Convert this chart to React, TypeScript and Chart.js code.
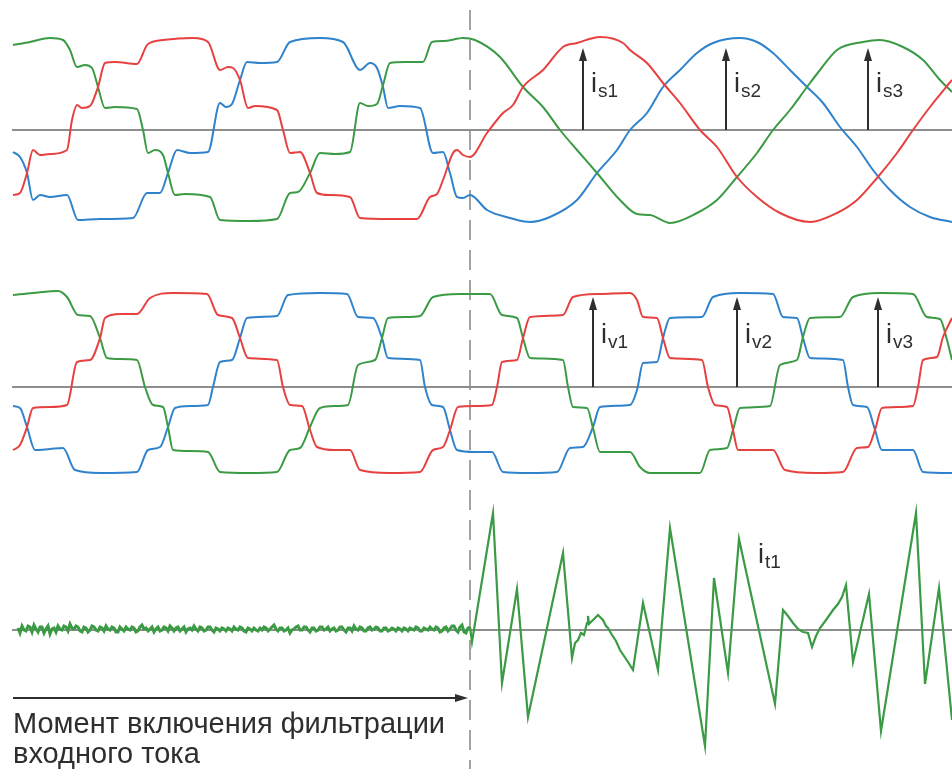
import { useEffect, useRef } from "react";
import { Chart, registerables } from "chart.js";

Chart.register(...registerables);

type Pt = [number, number]; // [time, ms ; current, A]

// ---------- axis ranges ----------
const timeMin = 0;
const timeMax = 47.6;
const switchTime = 23.5; // момент включения фильтрации

// ---------- panel 1: source currents i_s ----------
const sourceRed: Pt[] = [
  [0.65, -6.5], [1.0, -6.3], [1.35, -4.3], [1.65, -2.0], [2.0, -2.5], [2.5, -2.4], [3.35, -2.0],
  [3.6, 1.0], [3.85, 2.5], [4.1, 2.2], [4.5, 2.4], [4.9, 4.3], [5.25, 6.7], [5.75, 6.8], [6.85, 6.6],
  [7.35, 8.5], [7.6, 8.8], [8.15, 9.0], [9.65, 9.2], [10.4, 8.8], [11.0, 6.0], [11.4, 6.3], [11.65, 6.2],
  [12.0, 5.0], [12.4, 2.2], [12.75, 2.4], [13.85, 2.0], [14.15, 0], [14.5, -2.3], [15.0, -2.2],
  [15.5, -4.3], [15.85, -6.3], [16.5, -6.5], [17.5, -6.7], [18.0, -8.8], [19.5, -8.9], [20.85, -8.9],
  [21.5, -6.7], [21.85, -6.4], [22.15, -5.0], [22.65, -2.3], [22.85, -2.0], [23.15, -2.5], [23.5, -2.7],
  [24.35, -0.3], [25.15, 1.7], [25.65, 2.5], [26.15, 4.3], [27.15, 6.0], [28.15, 8.3], [28.85, 8.7],
  [30.0, 9.3], [31.15, 8.7], [31.5, 8.0], [32.35, 6.7], [33.15, 4.7], [34.0, 2.7], [35.0, 0],
  [35.85, -1.7], [36.85, -4.7], [37.85, -6.7], [39.0, -8.3], [40.5, -9.2], [41.85, -8.3], [42.85, -7.0],
  [43.85, -4.8], [44.85, -2.3], [45.65, 0], [46.5, 2.3], [47.6, 5.0],
];

const sourceGreen: Pt[] = [
  [0.65, 8.5], [1.5, 8.8], [2.5, 9.2], [3.15, 9.0], [3.5, 8.0], [3.85, 6.3], [4.25, 6.5], [4.6, 6.2],
  [4.9, 4.3], [5.25, 2.2], [5.75, 2.3], [6.85, 2.1], [7.15, 0], [7.4, -2.3], [7.75, -2.0], [8.15, -2.5],
  [8.4, -4.3], [8.75, -6.5], [9.25, -6.4], [10.5, -6.7], [11.0, -9.0], [12.5, -9.1], [13.85, -8.9],
  [14.5, -6.3], [14.9, -6.2], [15.5, -4.3], [16.0, -2.3], [16.75, -2.4], [17.5, -2.2], [18.0, 2.7],
  [18.4, 2.4], [18.85, 2.6], [19.15, 4.5], [19.5, 6.7], [20.25, 6.8], [21.15, 6.8], [21.6, 8.8],
  [22.25, 8.9], [23.15, 9.2], [23.75, 9.0], [25.0, 7.3], [26.15, 4.3], [27.15, 2.3], [28.0, 0],
  [28.85, -2.0], [29.85, -4.3], [31.0, -7.0], [31.85, -8.4], [32.5, -8.5], [33.5, -9.3], [34.85, -8.3],
  [35.85, -7.0], [36.85, -4.7], [37.85, -2.3], [38.65, 0], [39.5, 2.0], [40.35, 4.3], [41.0, 6.0],
  [41.85, 8.0], [43.15, 8.8], [44.0, 9.0], [45.15, 8.3], [46.15, 7.0], [47.0, 5.0], [47.6, 3.8],
];

const sourceBlue: Pt[] = [
  [0.65, -2.2], [1.0, -2.7], [1.35, -4.3], [1.65, -7.0], [2.0, -6.5], [2.5, -6.7], [3.35, -6.5],
  [3.9, -9.0], [5.0, -8.9], [6.65, -8.8], [7.35, -6.3], [8.0, -6.3], [8.4, -4.3], [8.85, -2.0],
  [9.5, -2.3], [10.4, -2.2], [11.0, 2.7], [11.3, 2.3], [11.6, 2.6], [12.0, 5.0], [12.35, 6.8],
  [13.0, 6.7], [13.85, 6.8], [14.5, 8.8], [16.0, 9.2], [17.15, 8.8], [18.0, 6.0], [18.5, 6.7],
  [18.85, 6.2], [19.15, 4.3], [19.4, 2.2], [20.0, 2.4], [21.0, 2.2], [21.65, -2.3], [22.15, -2.2],
  [22.5, -4.3], [22.85, -6.7], [23.15, -6.8], [23.5, -6.5], [24.35, -8.0], [25.5, -8.8], [26.5, -9.2],
  [27.5, -8.7], [28.85, -7.0], [29.85, -4.3], [30.85, -2.0], [31.5, 0], [32.35, 1.7], [33.15, 4.3],
  [34.0, 6.0], [34.85, 7.7], [35.65, 8.7], [37.0, 9.2], [37.85, 8.8], [38.65, 7.7], [39.5, 6.0],
  [40.35, 4.3], [41.15, 2.7], [42.0, 0.3], [42.85, -1.7], [43.65, -4.0], [44.5, -6.0], [45.5, -7.7],
  [46.5, -8.7], [47.6, -9.2],
];

// ---------- panel 2: load currents i_v ----------
const loadRed: Pt[] = [
  [0.65, -6.3], [1.0, -5.8], [1.35, -4.0], [1.65, -2.1], [2.5, -2.0], [3.35, -1.8], [3.85, 2.5],
  [4.5, 2.7], [5.0, 4.9], [5.25, 6.9], [6.0, 7.3], [6.85, 7.3], [7.5, 8.9], [8.65, 9.4], [10.35, 9.3],
  [10.9, 7.2], [11.6, 6.9], [12.0, 4.9], [12.4, 2.9], [13.85, 2.7], [14.15, 0], [14.5, -1.8],
  [15.1, -1.9], [15.5, -4.3], [15.85, -6.0], [16.75, -6.3], [17.5, -6.3], [18.0, -8.3], [19.5, -8.6],
  [21.0, -8.5], [21.65, -6.3], [22.15, -6.0], [22.5, -4.3], [22.9, -2.0], [23.75, -1.9], [24.6, -1.8],
  [24.85, 0], [25.1, 2.5], [25.85, 2.7], [26.15, 4.9], [26.5, 7.0], [28.15, 7.2], [28.65, 9.0],
  [30.0, 9.3], [31.5, 9.4], [31.85, 8.7], [32.15, 7.0], [32.85, 6.9], [33.15, 4.9], [33.5, 2.9],
  [35.1, 2.7], [35.4, 0], [35.75, -1.8], [36.35, -2.0], [36.65, -4.3], [36.9, -6.3], [38.65, -6.3],
  [39.25, -8.3], [40.75, -8.6], [42.15, -8.5], [42.85, -6.1], [43.4, -6.0], [43.75, -4.3],
  [44.1, -2.1], [45.65, -1.9], [45.9, 0], [46.15, 2.7], [46.85, 3.0], [47.15, 5.0], [47.6, 6.9],
];

const loadGreen: Pt[] = [
  [0.65, 9.2], [1.65, 9.4], [2.9, 9.6], [3.35, 9.0], [3.9, 7.2], [4.5, 7.1], [5.0, 4.9], [5.35, 2.9],
  [6.0, 2.8], [6.85, 2.7], [7.25, 0], [7.65, -1.8], [8.15, -2.0], [8.4, -4.0], [8.65, -6.3],
  [9.5, -6.4], [10.4, -6.5], [11.0, -8.5], [12.5, -8.6], [13.85, -8.5], [14.5, -6.3], [15.0, -6.1],
  [15.5, -4.0], [16.0, -2.1], [16.75, -1.9], [17.4, -1.8], [17.9, 2.2], [18.75, 2.7], [19.1, 4.9],
  [19.4, 6.9], [20.25, 7.0], [21.0, 7.1], [21.65, 9.0], [23.0, 9.3], [24.5, 9.3], [25.1, 7.2],
  [25.85, 6.9], [26.15, 4.9], [26.5, 2.9], [28.15, 2.7], [28.4, 0], [28.65, -2.0], [29.35, -2.1],
  [29.65, -4.1], [30.0, -6.5], [31.5, -6.5], [32.0, -8.0], [32.5, -8.6], [35.0, -8.6], [35.5, -6.3],
  [36.35, -6.1], [36.65, -4.3], [37.0, -2.1], [38.5, -1.9], [39.0, 2.2], [39.85, 2.7], [40.15, 5.0],
  [40.5, 6.9], [42.0, 7.0], [42.65, 9.0], [44.0, 9.4], [45.65, 9.3], [46.35, 7.0], [47.0, 6.8],
  [47.35, 4.7], [47.6, 2.7],
];

const loadBlue: Pt[] = [
  [0.65, -1.9], [1.0, -2.1], [1.35, -4.0], [1.75, -6.3], [2.5, -6.2], [3.15, -6.1], [3.75, -8.3],
  [5.0, -8.6], [6.85, -8.5], [7.4, -6.3], [8.0, -6.0], [8.4, -4.0], [8.75, -2.1], [9.5, -1.9],
  [10.4, -1.8], [10.65, 0], [11.0, 2.5], [11.6, 2.7], [12.0, 4.9], [12.35, 6.9], [13.85, 7.1],
  [14.4, 9.2], [16.0, 9.4], [17.35, 9.3], [17.9, 7.0], [18.65, 6.9], [19.1, 4.9], [19.4, 2.9],
  [21.0, 2.7], [21.25, 0], [21.6, -1.8], [22.15, -2.0], [22.5, -4.3], [22.85, -6.3], [23.75, -6.5],
  [24.6, -6.5], [25.15, -8.5], [26.5, -8.6], [27.85, -8.5], [28.5, -6.1], [29.15, -6.0], [29.65, -4.0],
  [30.0, -2.0], [31.5, -1.8], [31.85, -0.3], [32.15, 2.4], [32.85, 2.5], [33.15, 4.9], [33.5, 6.9],
  [35.1, 7.0], [35.65, 9.0], [37.0, 9.4], [38.65, 9.3], [39.15, 7.0], [39.85, 6.9], [40.15, 4.9],
  [40.5, 2.9], [42.15, 2.7], [42.4, 0], [42.65, -1.8], [43.35, -2.0], [43.75, -4.3], [44.1, -6.3],
  [45.65, -6.3], [46.15, -8.5], [47.6, -8.6],
];

// ---------- panel 3: filter current i_t1 ----------
const filterCurrent: Pt[] = [
  [0.9, 0.2], [1.0, -0.3], [1.1, 0.4], [1.2, 0.0], [1.3, -0.1], [1.4, 0.4], [1.5, 0.3], [1.6, -0.2],
  [1.7, 0.5], [1.8, 0.1], [1.9, -0.2], [2.0, 0.3], [2.1, 0.3], [2.2, -0.3], [2.3, 0.1], [2.4, 0.4],
  [2.5, -0.4], [2.6, 0.1], [2.7, 0.2], [2.8, -0.2], [2.9, 0.4], [3.0, 0.1], [3.1, 0.0], [3.2, 0.4],
  [3.3, 0.3], [3.4, -0.1], [3.5, 0.6], [3.6, 0.2], [3.7, 0.1], [3.8, 0.4], [3.9, 0.3], [4.0, -0.1],
  [4.1, -0.2], [4.2, 0.3], [4.3, 0.2], [4.4, -0.2], [4.5, 0.0], [4.6, 0.4], [4.7, 0.3], [4.8, 0.0],
  [4.9, -0.1], [5.0, 0.3], [5.1, 0.2], [5.2, -0.1], [5.3, 0.4], [5.4, 0.1], [5.5, 0.0], [5.6, 0.3],
  [5.7, 0.2], [5.8, -0.2], [5.9, -0.2], [6.0, 0.3], [6.1, 0.1], [6.2, -0.1], [6.3, 0.3], [6.4, 0.1],
  [6.5, 0.0], [6.6, 0.3], [6.7, 0.2], [6.8, -0.2], [6.9, -0.1], [7.0, 0.3], [7.1, 0.5], [7.2, 0.1],
  [7.3, 0.2], [7.4, -0.1], [7.5, 0.1], [7.6, 0.3], [7.7, -0.2], [7.8, 0.1], [7.9, 0.3], [8.0, -0.1],
  [8.1, 0.0], [8.2, 0.3], [8.3, 0.2], [8.4, -0.1], [8.5, 0.4], [8.6, 0.2], [8.7, -0.1], [8.8, 0.2],
  [8.9, 0.3], [9.0, -0.1], [9.1, 0.1], [9.2, 0.3], [9.3, -0.2], [9.4, 0.1], [9.5, 0.2], [9.6, 0.0],
  [9.7, 0.4], [9.8, 0.1], [9.9, -0.1], [10.0, 0.3], [10.1, 0.2], [10.2, -0.1], [10.3, 0.0], [10.4, 0.3],
  [10.5, 0.3], [10.6, 0.0], [10.7, -0.2], [10.8, 0.2], [10.9, 0.1], [11.0, -0.1], [11.1, 0.2],
  [11.2, 0.1], [11.3, -0.1], [11.4, 0.2], [11.5, 0.1], [11.6, -0.1], [11.7, 0.3], [11.8, 0.1],
  [11.9, 0.0], [12.0, 0.3], [12.1, 0.2], [12.2, -0.1], [12.3, -0.2], [12.4, 0.2], [12.5, 0.1],
  [12.6, -0.1], [12.7, 0.2], [12.8, 0.0], [12.9, -0.1], [13.0, 0.2], [13.1, 0.0], [13.2, 0.3],
  [13.3, 0.2], [13.4, -0.1], [13.5, 0.1], [13.6, 0.3], [13.7, 0.5], [13.8, 0.1], [13.9, -0.1],
  [14.0, 0.2], [14.1, 0.2], [14.2, -0.1], [14.3, 0.0], [14.4, 0.2], [14.5, -0.3], [14.6, 0.0],
  [14.7, 0.1], [14.8, 0.3], [14.9, 0.4], [15.0, 0.0], [15.1, 0.0], [15.2, 0.3], [15.3, 0.3],
  [15.4, 0.0], [15.5, -0.2], [15.6, 0.2], [15.7, 0.2], [15.8, -0.1], [15.9, 0.0], [16.0, 0.3],
  [16.1, 0.3], [16.2, 0.0], [16.3, 0.1], [16.4, 0.3], [16.5, -0.1], [16.6, 0.1], [16.7, 0.2],
  [16.8, -0.1], [16.9, 0.0], [17.0, 0.3], [17.1, 0.3], [17.2, 0.0], [17.3, -0.2], [17.4, 0.2],
  [17.5, 0.2], [17.6, -0.1], [17.7, 0.4], [17.8, 0.1], [17.9, 0.0], [18.0, 0.3], [18.1, 0.2],
  [18.2, -0.1], [18.3, -0.1], [18.4, 0.2], [18.5, 0.3], [18.6, 0.0], [18.7, 0.1], [18.8, 0.3],
  [18.9, 0.2], [19.0, -0.1], [19.1, -0.1], [19.2, 0.2], [19.3, 0.2], [19.4, -0.1], [19.5, 0.0],
  [19.6, 0.2], [19.7, 0.1], [19.8, -0.1], [19.9, 0.2], [20.0, 0.1], [20.1, -0.1], [20.2, 0.2],
  [20.3, 0.1], [20.4, -0.1], [20.5, 0.2], [20.6, 0.1], [20.7, 0.0], [20.8, 0.3], [20.9, 0.2],
  [21.0, -0.1], [21.1, -0.1], [21.2, 0.2], [21.3, 0.1], [21.4, 0.0], [21.5, 0.3], [21.6, 0.1],
  [21.7, 0.0], [21.8, 0.3], [21.9, 0.2], [22.0, -0.2], [22.1, -0.1], [22.2, 0.2], [22.3, 0.3],
  [22.4, -0.1], [22.5, 0.1], [22.6, 0.4], [22.7, 0.4], [22.8, 0.0], [22.9, -0.2], [23.0, 0.3],
  [23.1, 0.5], [23.2, -0.2], [23.3, -0.3], [23.4, 0.2], [23.5, 0.3], [23.6, -1.2],
  [24.65, 11.7], [25.1, -5.3], [25.85, 4.1], [26.4, -8.7], [28.15, 7.7], [28.6, -2.8], [28.75, -1.3],
  [28.9, -1.0], [29.05, -0.3], [29.2, -0.5], [29.35, 0.7], [29.4, 1.4], [29.45, 0.6], [29.65, 1.0],
  [29.9, 1.5], [30.05, 1.2], [30.15, 1.0], [30.3, 0.4], [30.4, 0.2], [30.6, -0.5], [30.8, -1.1],
  [31.0, -2.0], [31.2, -2.6], [31.4, -3.2], [31.65, -4.0], [32.15, 2.7], [32.9, -4.0], [33.5, 10.2],
  [35.25, -11.6], [35.7, 5.2], [36.4, -4.3], [36.95, 9.1], [38.75, -7.4], [39.15, 2.0], [39.4, 1.4],
  [39.65, 0.7], [39.9, 0.1], [40.15, -0.2], [40.4, -0.3], [40.6, -1.7], [40.8, -0.6], [41.0, 0.2],
  [41.3, 1.0], [41.65, 2.0], [41.9, 2.6], [42.1, 3.3], [42.3, 4.5], [42.65, -3.2], [43.45, 3.6],
  [44.05, -10.1], [45.8, 11.7], [46.25, -5.4], [46.95, 4.2], [47.6, -9.0],
];

// zero reference lines
const zeroLine: Pt[] = [[0.6, 0], [47.6, 0]];

// ---------- annotation arrows ----------
const sourceArrowTimes = [29.15, 36.3, 43.4];
const sourceArrowPeak = 8.2;
const sourceLabels = ["s1", "s2", "s3"];
const loadArrowTimes = [29.65, 36.85, 43.9];
const loadArrowPeak = 9.0;
const loadLabels = ["v1", "v2", "v3"];
const filterLabel = "t1";
const filterLabelTime = 37.9;
const filterLabelValue = 6.7;
const noteArrowStart = 0.65;
const noteArrowValue = -6.8;
const noteLines = ["Момент включения фильтрации", "входного тока"];

const RED = "#e6403f";
const GREEN = "#3b9a44";
const BLUE = "#2f82cc";
const GRID = "#8e8e8e";
const INK = "#2e2e2e";
const FONT = '"Liberation Sans", Arial, Helvetica, sans-serif';

const toXY = (pts: Pt[]) => pts.map(([x, y]) => ({ x, y }));

function line(pts: Pt[], color: string, axis: string, smooth = true) {
  return {
    data: toXY(pts),
    yAxisID: axis,
    borderColor: color,
    borderWidth: 2,
    pointRadius: 0,
    fill: false,
    cubicInterpolationMode: smooth ? ("monotone" as const) : ("default" as const),
    tension: 0,
  };
}

function drawArrow(ctx: CanvasRenderingContext2D, x1: number, y1: number, x2: number, y2: number) {
  const ang = Math.atan2(y2 - y1, x2 - x1);
  const head = 13;
  const half = 4;
  const bx = x2 - head * Math.cos(ang);
  const by = y2 - head * Math.sin(ang);
  ctx.beginPath();
  ctx.moveTo(x1, y1);
  ctx.lineTo(bx, by);
  ctx.stroke();
  ctx.beginPath();
  ctx.moveTo(x2, y2);
  ctx.lineTo(bx + half * Math.sin(ang), by - half * Math.cos(ang));
  ctx.lineTo(bx - half * Math.sin(ang), by + half * Math.cos(ang));
  ctx.closePath();
  ctx.fill();
}

function drawLabel(ctx: CanvasRenderingContext2D, x: number, y: number, sub: string) {
  ctx.font = `27px ${FONT}`;
  ctx.fillText("i", x, y);
  const w = ctx.measureText("i").width;
  ctx.font = `19px ${FONT}`;
  ctx.fillText(sub, x + w + 1, y + 5);
}

const annotationPlugin = {
  id: "annotations",
  beforeDatasetsDraw(chart: any) {
    const { ctx, chartArea, scales } = chart;
    const x = scales.x.getPixelForValue(switchTime);
    ctx.save();
    ctx.strokeStyle = "#a3a3a3";
    ctx.lineWidth = 2;
    ctx.setLineDash([20, 10]);
    ctx.lineDashOffset = 20;
    ctx.beginPath();
    ctx.moveTo(x, chartArea.top);
    ctx.lineTo(x, chartArea.bottom);
    ctx.stroke();
    ctx.restore();
  },
  afterDatasetsDraw(chart: any) {
    const { ctx, scales } = chart;
    const xs = scales.x;
    ctx.save();
    ctx.strokeStyle = INK;
    ctx.fillStyle = INK;
    ctx.lineWidth = 2;
    ctx.textBaseline = "alphabetic";
    ctx.textAlign = "left";
    sourceArrowTimes.forEach((t, i) => {
      const x = xs.getPixelForValue(t);
      drawArrow(ctx, x, scales.y1.getPixelForValue(0), x, scales.y1.getPixelForValue(sourceArrowPeak));
      drawLabel(ctx, x + 8, scales.y1.getPixelForValue(0) - 38, sourceLabels[i]);
    });
    loadArrowTimes.forEach((t, i) => {
      const x = xs.getPixelForValue(t);
      drawArrow(ctx, x, scales.y2.getPixelForValue(0), x, scales.y2.getPixelForValue(loadArrowPeak));
      drawLabel(ctx, x + 8, scales.y2.getPixelForValue(0) - 44, loadLabels[i]);
    });
    drawLabel(ctx, xs.getPixelForValue(filterLabelTime), scales.y3.getPixelForValue(filterLabelValue), filterLabel);

    const ay = scales.y3.getPixelForValue(noteArrowValue);
    const ax = xs.getPixelForValue(noteArrowStart);
    drawArrow(ctx, ax, ay, xs.getPixelForValue(switchTime) - 2, ay);
    ctx.font = `29px ${FONT}`;
    ctx.fillText(noteLines[0], ax, ay + 35);
    ctx.fillText(noteLines[1], ax, ay + 65);
    ctx.restore();
  },
};

export default function App() {
  const ref = useRef<HTMLCanvasElement>(null);
  useEffect(() => {
    if (!ref.current) return;
    const filter: any = line(filterCurrent, GREEN, "y3", false);
    filter.segment = {
      borderWidth: (c: any) => (c.p1.parsed.x <= switchTime ? 3 : 2.2),
    };
    const chart = new Chart(ref.current, {
      type: "line",
      data: {
        datasets: [
          line(sourceRed, RED, "y1"),
          line(sourceGreen, GREEN, "y1"),
          line(sourceBlue, BLUE, "y1"),
          line(loadRed, RED, "y2"),
          line(loadGreen, GREEN, "y2"),
          line(loadBlue, BLUE, "y2"),
          filter,
          { ...line(zeroLine, GRID, "y1", false), borderWidth: 1.8 },
          { ...line(zeroLine, GRID, "y2", false), borderWidth: 1.8 },
          { ...line(zeroLine, GRID, "y3", false), borderWidth: 1.8 },
        ] as any,
      },
      options: {
        animation: false,
        responsive: false,
        devicePixelRatio: 1,
        layout: { padding: 0 },
        plugins: { legend: { display: false }, tooltip: { enabled: false } },
        events: [],
        scales: {
          x: { type: "linear", min: timeMin, max: timeMax, display: false },
          y1: { type: "linear", min: -63.9, max: 13.0, display: false },
          y2: { type: "linear", min: -38.2, max: 38.7, display: false },
          y3: { type: "linear", min: -13.9, max: 63.0, display: false },
        },
      },
      plugins: [annotationPlugin],
    });
    return () => chart.destroy();
  }, []);
  return (
    <div style={{ position: "absolute", left: 0, top: 0, width: 952, height: 769, background: "#fff" }}>
      <canvas ref={ref} width={952} height={769} style={{ display: "block" }} />
    </div>
  );
}
